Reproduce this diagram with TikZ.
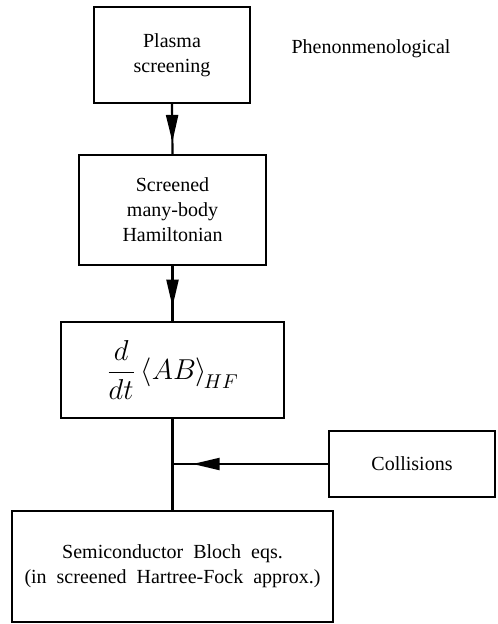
\documentclass[tikz,border=0pt]{standalone}
\usepackage{fontspec}
\setmainfont{Liberation Serif}
\usetikzlibrary{arrows.meta,decorations.markings}

\begin{document}
\begin{tikzpicture}
[
 x=0.5pt, y=-0.5pt,
 line width=1.1pt,
 every node/.style={font=\fontsize{10pt}{12.5pt}\selectfont, align=center},
 BOX/.style={rectangle, draw=black, line width=1.1pt, inner sep=1mm},
 MIDARROW/.style={postaction={decorate},
   decoration={markings, mark=at position #1 with {\arrow{Triangle[length=13.5pt, width=6pt]}}}},
 ]
%
\useasboundingbox (0,0) rectangle (497,624);
%
\node [BOX, minimum width=78pt,    minimum height=48pt]   (PS)  at (172,55)    {Plasma\\screening};
\node [BOX, minimum width=93.5pt,  minimum height=55pt]   (HAM) at (172.5,210) {Screened\\many-body\\Hamiltonian};
\node [BOX, minimum width=111.5pt, minimum height=48pt]   (EOM) at (172.5,370)
      {\Large $\displaystyle \frac{d}{dt}\,\Bigl\langle AB\Bigr\rangle_{\!HF}$};
\node [BOX, minimum width=83pt,    minimum height=33pt]   (COL) at (412,464)   {Collisions};
\node [BOX, minimum width=160.5pt, minimum height=55.5pt] (SBE) at (172.5,566.5)
      {\fontsize{10pt}{14pt}\selectfont Semiconductor\ \ Bloch\ \ eqs.\\(in\ \ screened\ \ Hartree-Fock\ \ approx.)};
%
\node (PHEN) at (371,49) {Phenonmenological};
%
\coordinate (JOIN) at (EOM.south |- COL.west);
%
\draw [MIDARROW=0.76] (PS.south)  -- (HAM.north);
\draw [MIDARROW=0.74] (HAM.south) -- (EOM.north);
\draw                 (EOM.south) -- (SBE.north);
\draw [MIDARROW=0.87] (COL.west)  -- (JOIN);
%
\end{tikzpicture}
\end{document}
